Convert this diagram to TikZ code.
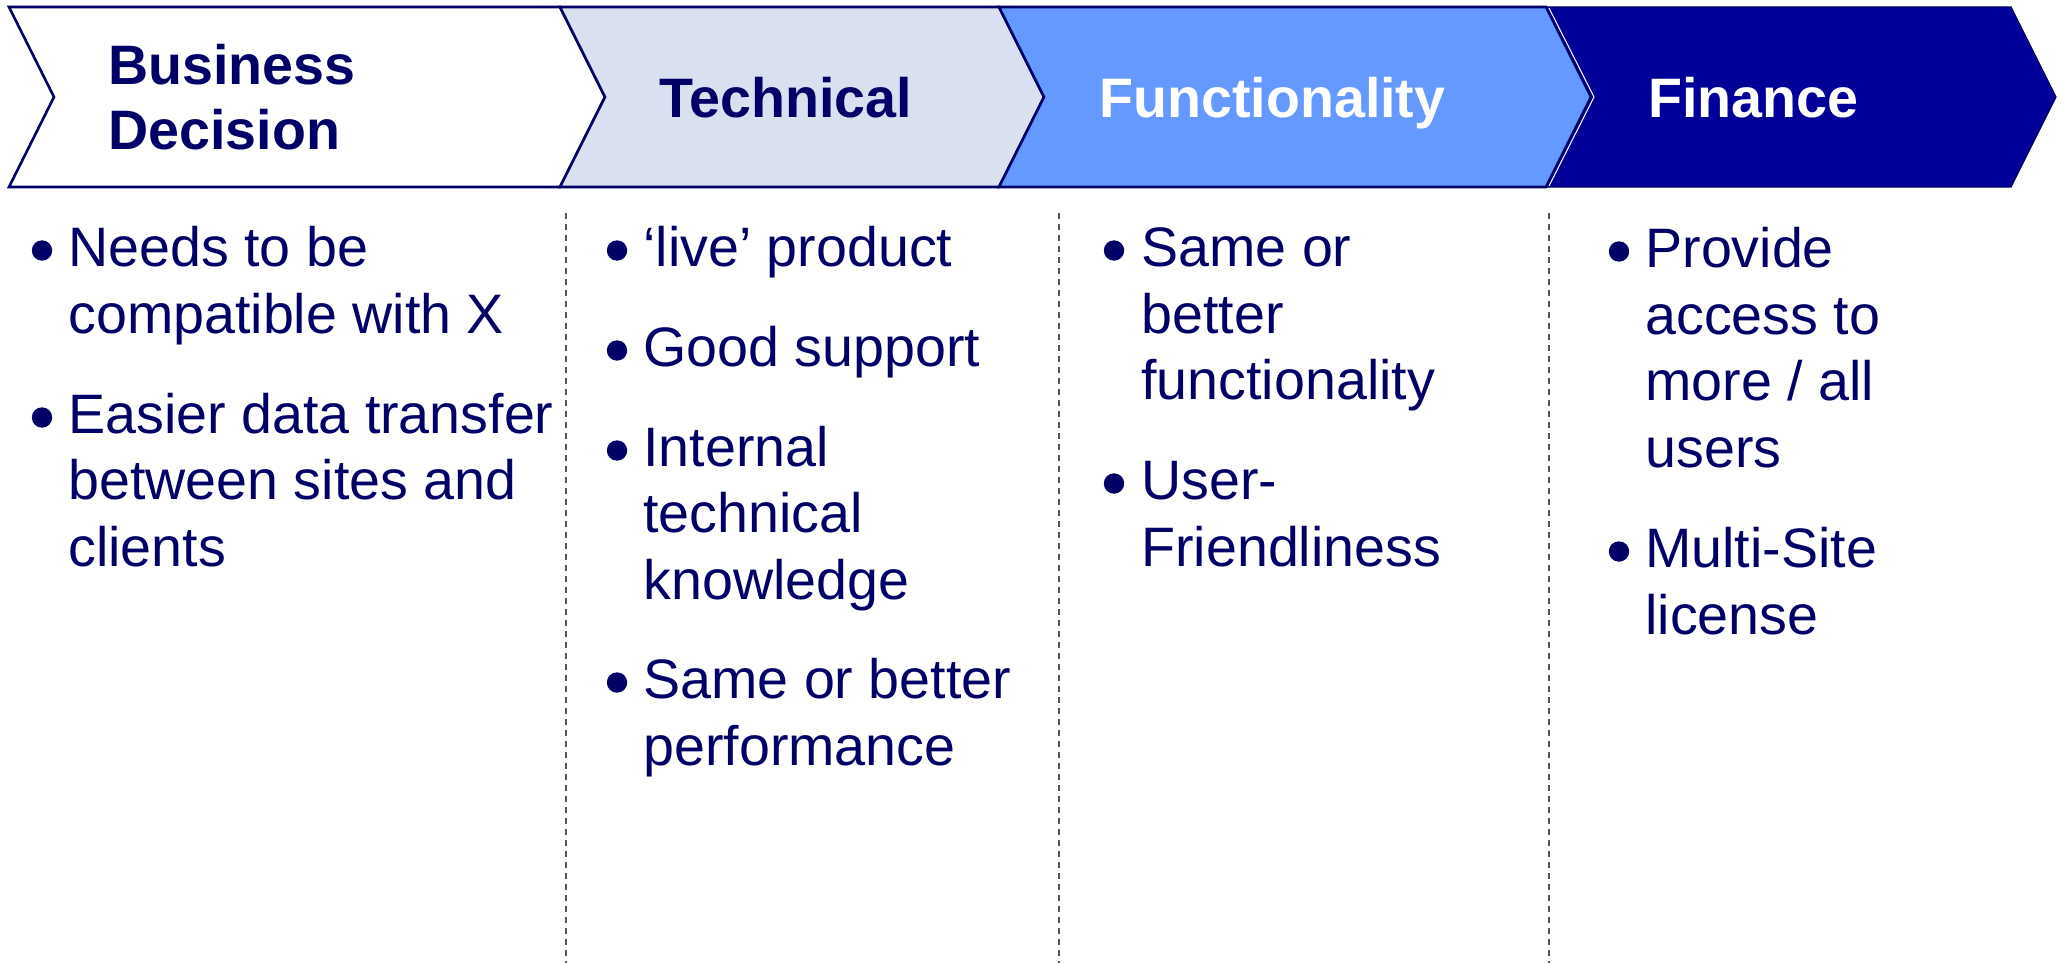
\documentclass[tikz,border=0pt]{standalone}
\usepackage{fontspec}
\setmainfont{Liberation Sans}
\definecolor{navy}{HTML}{000066}
\definecolor{lav}{HTML}{D9E0EF}
\definecolor{midblue}{HTML}{6699FF}
\definecolor{deepblue}{HTML}{000099}
\definecolor{sepgray}{HTML}{555555}
\tikzset{
  chev/.style={draw=navy, line width=1.3pt, line join=miter},
  head/.style={inner sep=0pt, anchor=base west, font=\fontsize{27.8}{33}\selectfont\bfseries},
  body/.style={inner sep=0pt, anchor=base west, text=navy, font=\fontsize{27.8}{33}\selectfont},
  sep/.style={draw=sepgray, line width=0.6pt, dash pattern=on 3pt off 2.5pt},
  dot/.style={fill=navy}
}
\newcommand{\bdot}[2]{\fill[dot] (#1,#2-15.5) circle (5.1pt);}
\begin{document}
\begin{tikzpicture}[x=0.5pt,y=-0.5pt]
\useasboundingbox (0,0) rectangle (2062,963);
% chevrons
\path[chev, fill=white] (9,7) -- (560,7) -- (605,97) -- (560,187) -- (9,187) -- (54,97) -- cycle;
\path[chev, fill=lav] (560,7) -- (999,7) -- (1044,97) -- (999,187) -- (560,187) -- (605,97) -- cycle;
\path[chev, fill=midblue] (999,7) -- (1546,7) -- (1591,97) -- (1546,187) -- (999,187) -- (1044,97) -- cycle;
\path[fill=deepblue, draw=navy, line width=0.6pt] (1546,7) -- (2011,7) -- (2056,97) -- (2011,187) -- (1546,187) -- (1591,97) -- cycle;
\draw[white, line width=0.5pt] (1549,8) -- (1594,97) -- (1549,186);
% headers
\node[head, text=navy] (h1a) at (108,85) {Business};
\node[head, text=navy] (h1b) at (108,149) {Decision};
\node[head, text=navy] (h2) at (659,118) {Technical};
\node[head, text=white] (h3) at (1099,118) {Functionality};
\node[head, text=white] (h4) at (1648,118) {Finance};
% separators
\draw[sep] (566,213) -- (566,963);
\draw[sep] (1059,213) -- (1059,963);
\draw[sep] (1549,213) -- (1549,963);
% column 1
\bdot{42}{266}
\node[body] (a1) at (68,266) {Needs to be};
\node[body] (a2) at (68,333) {compatible with X};
\bdot{42}{433}
\node[body] (a3) at (68,433) {Easier data transfer};
\node[body] (a4) at (68,499) {between sites and};
\node[body] (a5) at (68,566) {clients};
% column 2
\bdot{617}{266}
\node[body] (b1) at (643,266) {‘live’ product};
\bdot{617}{366}
\node[body] (b2) at (643,366) {Good support};
\bdot{617}{466}
\node[body] (b3) at (643,466) {Internal};
\node[body] (b4) at (643,532) {technical};
\node[body] (b5) at (643,599) {knowledge};
\bdot{617}{698}
\node[body] (b6) at (643,698) {Same or better};
\node[body] (b7) at (643,765) {performance};
% column 3
\bdot{1114}{266}
\node[body] (c1) at (1141,266) {Same or};
\node[body] (c2) at (1141,333) {better};
\node[body] (c3) at (1141,399) {functionality};
\bdot{1114}{499}
\node[body] (c4) at (1141,499) {User-};
\node[body] (c5) at (1141,566) {Friendliness};
% column 4
\bdot{1619}{267}
\node[body] (d1) at (1645,267) {Provide};
\node[body] (d2) at (1645,334) {access to};
\node[body] (d3) at (1645,400) {more / all};
\node[body] (d4) at (1645,467) {users};
\bdot{1619}{567}
\node[body] (d5) at (1645,567) {Multi-Site};
\node[body] (d6) at (1645,634) {license};
\end{tikzpicture}
\end{document}
